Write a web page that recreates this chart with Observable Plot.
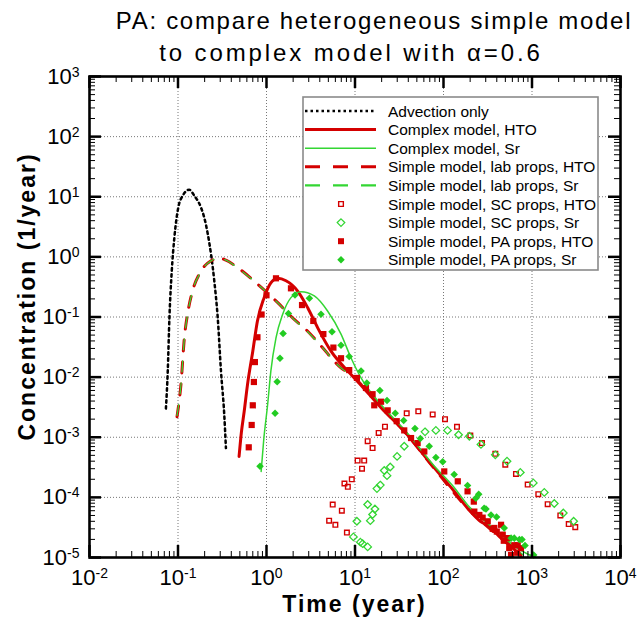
<!DOCTYPE html>
<html><head><meta charset="utf-8">
<script src="https://cdn.jsdelivr.net/npm/d3@7"></script>
<script src="https://cdn.jsdelivr.net/npm/@observablehq/plot@0.6"></script>
<style>
body{margin:0;background:#fff;}
#chart{width:639px;height:625px;}
</style>
</head><body><div id="chart"></div>
<script>
// ---------- data ----------
const titleLines = ["PA: compare heterogeneous simple model", "to complex model with α=0.6"];
const xLabel = "Time (year)";
const yLabel = "Concentration (1/year)";
const xTickExp = [-2, -1, 0, 1, 2, 3, 4];
const yTickExp = [-5, -4, -3, -2, -1, 0, 1, 2, 3];
const legendLabels = [
  "Advection only",
  "Complex model, HTO",
  "Complex model, Sr",
  "Simple model, lab props, HTO",
  "Simple model, lab props, Sr",
  "Simple model, SC props, HTO",
  "Simple model, SC props, Sr",
  "Simple model, PA props, HTO",
  "Simple model, PA props, Sr"
];

// Advection only
const advT = [0.073, 0.0766, 0.080, 0.085, 0.091, 0.1007, 0.113, 0.134, 0.153, 0.182, 0.198, 0.217, 0.257, 0.281, 0.306, 0.333, 0.348];
const advC = [3.0e-3, 0.0126, 0.098, 0.58, 2.1, 6.6, 10.4, 13.1, 10.4, 6.6, 4.5, 2.4, 0.40, 0.098, 0.0126, 2.4e-3, 6.6e-4];

// Complex model, HTO
const cxHtoT = [0.49, 0.52, 0.56, 0.61, 0.70, 0.79, 0.94, 1.12, 1.34, 1.66, 2.25, 2.92, 3.79, 5.36, 8.3, 10.7, 19.7, 36, 78.7, 130, 187, 260, 330, 447, 560, 750];
const cxHtoC = [4.8e-4, 1.2e-3, 2.7e-3, 7.5e-3, 0.027, 0.086, 0.21, 0.37, 0.44, 0.40, 0.27, 0.143, 0.066, 0.027, 0.0126, 8.5e-3, 3.1e-3, 1.26e-3, 3.1e-4, 1.3e-4, 6.6e-5, 4.0e-5, 3.3e-5, 2.1e-5, 1.6e-5, 1.05e-5];

// Complex model, Sr
const cxSrT = [0.87, 0.93, 1.03, 1.12, 1.28, 1.52, 1.89, 2.45, 3.47, 4.9, 6.95, 9.0, 11.7, 20, 36, 79, 130, 187, 280, 447, 650, 1000];
const cxSrC = [2.7e-4, 9.0e-4, 3.5e-3, 0.0126, 0.045, 0.11, 0.21, 0.264, 0.224, 0.126, 0.052, 0.021, 9.7e-3, 3.4e-3, 1.35e-3, 3.3e-4, 1.5e-4, 7.5e-5, 4.3e-5, 2.4e-5, 1.5e-5, 1.05e-5];

// Simple model, lab props, HTO
const labHtoT = [0.0975, 0.108, 0.118, 0.13, 0.146, 0.182, 0.236, 0.293, 0.348, 0.473, 0.797, 1.34, 2.06, 2.92, 4.13, 6.95, 9.0, 12, 20, 36, 79, 187, 447, 750];
const labHtoC = [2.2e-3, 7.6e-3, 0.045, 0.126, 0.27, 0.58, 0.86, 0.95, 0.88, 0.66, 0.35, 0.173, 0.091, 0.058, 0.033, 0.0143, 0.011, 7.3e-3, 3.1e-3, 1.25e-3, 3.0e-4, 6.6e-5, 2.1e-5, 1.1e-5];

// Simple model, lab props, Sr
const labSrT = [0.0975, 0.108, 0.118, 0.13, 0.146, 0.182, 0.236, 0.293, 0.348, 0.473, 0.797, 1.34, 2.06, 2.92, 4.13, 6.95, 9.0, 12, 20, 36, 79, 187, 447, 800];
const labSrC = [2.3e-3, 7.4e-3, 0.044, 0.124, 0.27, 0.57, 0.86, 0.94, 0.88, 0.65, 0.35, 0.172, 0.090, 0.057, 0.033, 0.0142, 0.011, 7.4e-3, 3.2e-3, 1.3e-3, 3.1e-4, 6.9e-5, 2.2e-5, 1.1e-5];

// Simple model, SC props, HTO (open squares)
const scHtoT = [5.1, 6.0, 8.1, 5.6, 7.1, 7.6, 8.3, 9.2, 10.7, 12.7, 12, 15.8, 13.9, 18.5, 21.8, 38.4, 51.9, 75.5, 104, 142, 201, 272, 385, 499, 659, 894, 1178, 1503, 2089, 2600, 3083];
const scHtoC = [4.1e-5, 3.5e-5, 2.6e-5, 7.6e-5, 6.0e-5, 1.7e-4, 1.5e-4, 2.0e-4, 4.1e-4, 4.1e-4, 3.0e-4, 6.6e-4, 8.6e-4, 1.18e-3, 1.5e-3, 2.5e-3, 2.7e-3, 2.4e-3, 2.0e-3, 1.49e-3, 1.07e-3, 8.0e-4, 5.3e-4, 3.5e-4, 2.45e-4, 1.63e-4, 1.13e-4, 7.7e-5, 5.0e-5, 3.6e-5, 3.2e-5];

// Simple model, SC props, Sr (open diamonds)
const scSrT = [9.6, 11.5, 12.2, 13.9, 10.5, 14.9, 15.8, 16.8, 13.9, 17.7, 19.3, 23, 21.4, 25, 29.9, 36, 61.8, 82, 111, 148, 196, 265, 385, 522, 738, 1034, 1377, 1786, 2258, 2954];
const scSrC = [2.2e-5, 1.8e-5, 1.7e-5, 1.5e-5, 4.0e-5, 4.1e-5, 5.2e-5, 6.4e-5, 7.6e-5, 1.4e-4, 1.6e-4, 2.3e-4, 2.8e-4, 3.2e-4, 4.8e-4, 7.1e-4, 1.23e-3, 1.3e-3, 1.3e-3, 1.1e-3, 1.04e-3, 7.6e-4, 5.1e-4, 4.0e-4, 2.6e-4, 1.74e-4, 1.21e-4, 7.9e-5, 5.5e-5, 4.0e-5];

// Simple model, PA props, HTO (filled squares)
const paHtoT = [0.63, 0.68, 0.70, 0.72, 0.74, 0.79, 0.88, 1.0, 1.28, 1.89, 2.52, 3.38, 4.39, 5.7, 6.95, 8.6, 10.5, 13.3, 15.8, 16.5, 19.7, 23.4, 29.6, 36, 43, 51, 60.7, 102, 145, 187, 220, 223, 254, 277, 316, 360, 375, 400, 447, 467, 480, 531, 553, 580, 631, 680, 689, 750];
const paHtoC = [6.8e-4, 1.6e-3, 3.4e-3, 8.3e-3, 0.0178, 0.046, 0.11, 0.23, 0.44, 0.30, 0.158, 0.086, 0.052, 0.031, 0.0206, 0.0131, 9.7e-3, 6.6e-3, 5.2e-3, 3.4e-3, 3.9e-3, 2.8e-3, 1.85e-3, 1.3e-3, 9.7e-4, 8.0e-4, 5.8e-4, 2.7e-4, 1.85e-4, 1.26e-4, 8.5e-5, 5.8e-5, 5.1e-5, 4.6e-5, 4.0e-5, 3.0e-5, 3.1e-5, 2.7e-5, 3.5e-5, 2.4e-5, 1.9e-5, 2.1e-5, 1.43e-5, 1.1e-5, 1.6e-5, 1.2e-5, 1.6e-5, 1.43e-5];

// Simple model, PA props, Sr (filled diamonds)
const paSrT = [0.845, 1.25, 1.32, 1.42, 1.54, 1.77, 2.1, 3.05, 4.13, 5.5, 6.95, 8.6, 11.7, 13.6, 19.1, 23, 28.5, 35.5, 47.6, 54.7, 69, 82, 98, 132, 187, 232, 250, 288, 302, 344, 398, 486, 580, 631, 720, 771, 834, 1045];
const paSrC = [3.3e-4, 2.5e-3, 8.4e-3, 0.0206, 0.053, 0.114, 0.233, 0.205, 0.111, 0.057, 0.034, 0.022, 0.0126, 8.0e-3, 6.0e-3, 4.1e-3, 2.5e-3, 1.9e-3, 1.4e-3, 9.5e-4, 7.1e-4, 4.6e-4, 3.9e-4, 2.4e-4, 1.57e-4, 9.7e-5, 1.13e-4, 6.6e-5, 6.4e-5, 5.1e-5, 4.7e-5, 3.1e-5, 2.1e-5, 2.1e-5, 2.0e-5, 2.0e-5, 1.58e-5, 1.1e-5];

// ---------- build ----------
const zip = (T, C) => T.map((t, i) => ({t, c: C[i]}));
const RED = "#d40000", GREEN = "#22cc22", GREENL = "#33d633";
const W = 639, H = 625, mL = 89, mR = 19, mT = 76, mB = 68;
const innerW = W - mL - mR, innerH = H - mT - mB;
const xMajor = xTickExp.map(e => Math.pow(10, e));
const yMajor = yTickExp.map(e => Math.pow(10, e));
const minorOf = (majors) => {
  const out = [];
  for (let i = 0; i < majors.length - 1; i++) for (let k = 2; k <= 9; k++) out.push(majors[i] * k);
  return out;
};
const xMinor = minorOf(xMajor), yMinor = minorOf(yMajor);
const MAJ = 12, MIN = 6;
const FONT = "'Liberation Sans', Arial, Helvetica, sans-serif";

const plot = Plot.plot({
  width: W, height: H,
  marginLeft: mL, marginRight: mR, marginTop: mT, marginBottom: mB,
  x: {type: "log", domain: [1e-2, 1e4]},
  y: {type: "log", domain: [1e-5, 1e3]},
  style: {fontFamily: FONT, background: "white", color: "black"},
  marks: [
    Plot.gridX(xMajor.slice(1, -1), {stroke: "#777", strokeOpacity: 1, strokeWidth: 1, strokeDasharray: "1,2"}),
    Plot.gridY(yMajor.slice(1, -1), {stroke: "#777", strokeOpacity: 1, strokeWidth: 1, strokeDasharray: "1,2"}),
    Plot.line(zip(advT, advC), {x: "t", y: "c", stroke: "black", strokeWidth: 2.5, strokeDasharray: "2.5,3.5", curve: "monotone-x"}),
    Plot.line(zip(labHtoT, labHtoC), {x: "t", y: "c", stroke: RED, strokeWidth: 3, strokeDasharray: "11,11", curve: "monotone-x"}),
    Plot.line(zip(labSrT, labSrC), {x: "t", y: "c", stroke: GREENL, strokeWidth: 1.3, strokeDasharray: "11,11", curve: "monotone-x"}),
    Plot.line(zip(cxHtoT, cxHtoC), {x: "t", y: "c", stroke: RED, strokeWidth: 3, curve: "monotone-x"}),
    Plot.line(zip(cxSrT, cxSrC), {x: "t", y: "c", stroke: GREENL, strokeWidth: 1.5, curve: "monotone-x"}),
    Plot.dot(zip(scHtoT, scHtoC), {x: "t", y: "c", symbol: "square", r: 2.6, stroke: RED, strokeWidth: 1.4, fill: "none"}),
    Plot.dot(zip(scSrT, scSrC), {x: "t", y: "c", symbol: "diamond2", r: 3.4, stroke: GREENL, strokeWidth: 1.3, fill: "none"}),
    Plot.dot(zip(paHtoT, paHtoC), {x: "t", y: "c", symbol: "square", r: 3.5, fill: RED, stroke: "none"}),
    Plot.dot(zip(paSrT, paSrC), {x: "t", y: "c", symbol: "diamond2", r: 3.4, fill: GREEN, stroke: "none"}),
    // inward ticks on all four sides
    Plot.ruleX(xMinor, {x: d => d, insetTop: innerH - MIN, stroke: "black", strokeWidth: 1}),
    Plot.ruleX(xMinor, {x: d => d, insetBottom: innerH - MIN, stroke: "black", strokeWidth: 1}),
    Plot.ruleX(xMajor, {x: d => d, insetTop: innerH - MAJ, stroke: "black", strokeWidth: 2.5}),
    Plot.ruleX(xMajor, {x: d => d, insetBottom: innerH - MAJ, stroke: "black", strokeWidth: 2.5}),
    Plot.ruleY(yMinor, {y: d => d, insetRight: innerW - MIN, stroke: "black", strokeWidth: 1}),
    Plot.ruleY(yMinor, {y: d => d, insetLeft: innerW - MIN, stroke: "black", strokeWidth: 1}),
    Plot.ruleY(yMajor, {y: d => d, insetRight: innerW - MAJ, stroke: "black", strokeWidth: 2.5}),
    Plot.ruleY(yMajor, {y: d => d, insetLeft: innerW - MAJ, stroke: "black", strokeWidth: 2.5}),
    Plot.frame({stroke: "black", strokeWidth: 2.6}),
    Plot.axisX(xMajor, {anchor: "bottom", tickSize: 0, tickPadding: 12, fontSize: 22, label: null,
      tickFormat: d => "10^" + Math.round(Math.log10(d))}),
    Plot.axisY(yMajor, {anchor: "left", tickSize: 0, tickPadding: 10, fontSize: 22, label: null,
      tickFormat: d => "10^" + Math.round(Math.log10(d))})
  ]
});

document.getElementById("chart").appendChild(plot);
const svg = d3.select(plot);

// superscript exponents in tick labels
svg.selectAll('g[aria-label="x-axis tick label"] text, g[aria-label="y-axis tick label"] text').each(function () {
  const s = this.textContent;
  if (!s.startsWith("10^")) return;
  const exp = s.slice(3);
  const el = d3.select(this);
  el.text(null);
  el.append("tspan").text("10");
  el.append("tspan").attr("dy", "-0.5em").attr("font-size", "14px").text(exp);
});

// title
const title = svg.append("g").attr("font-family", FONT).attr("font-size", 24).attr("text-anchor", "middle").attr("fill", "black");
title.append("text").attr("x", 374).attr("y", 29).attr("letter-spacing", "1.7px").text(titleLines[0]);
title.append("text").attr("x", 351).attr("y", 61).attr("letter-spacing", "2.9px").text(titleLines[1]);

// axis titles
svg.append("text").attr("x", mL + innerW / 2).attr("y", 612).attr("text-anchor", "middle")
  .attr("font-family", FONT).attr("font-weight", "bold").attr("font-size", 23).attr("letter-spacing", "2px").text(xLabel);
svg.append("text").attr("transform", `translate(35,${mT + innerH / 2 - 20}) rotate(-90)`).attr("text-anchor", "middle")
  .attr("font-family", FONT).attr("font-weight", "bold").attr("font-size", 23).attr("letter-spacing", "2px").text(yLabel);

// legend
const legendStyles = [
  {kind: "line", stroke: "black", w: 2.5, dash: "2.5,3"},
  {kind: "line", stroke: RED, w: 3},
  {kind: "line", stroke: GREENL, w: 1.5},
  {kind: "line", stroke: RED, w: 3, dash: "15,13"},
  {kind: "line", stroke: GREENL, w: 2.2, dash: "15,13"},
  {kind: "sym", symbol: d3.symbolSquare, size: 22, stroke: RED, fill: "none", sw: 1.4},
  {kind: "sym", symbol: d3.symbolDiamond2, size: 36, stroke: GREENL, fill: "none", sw: 1.3},
  {kind: "sym", symbol: d3.symbolSquare, size: 36, stroke: "none", fill: RED},
  {kind: "sym", symbol: d3.symbolDiamond2, size: 36, stroke: "none", fill: GREEN}
];
const lg = svg.append("g").attr("font-family", FONT).attr("font-size", 15.5).attr("text-anchor", "start");
lg.append("rect").attr("x", 303).attr("y", 97).attr("width", 295).attr("height", 173)
  .attr("fill", "white").attr("stroke", "#8a8a8a").attr("stroke-width", 1.6);
legendLabels.forEach((lab, i) => {
  const cy = 111 + 18.6 * i;
  const st = legendStyles[i];
  if (st.kind === "line") {
    lg.append("line").attr("x1", 305).attr("x2", 376).attr("y1", cy).attr("y2", cy)
      .attr("stroke", st.stroke).attr("stroke-width", st.w).attr("stroke-dasharray", st.dash || null);
  } else {
    lg.append("path").attr("d", d3.symbol(st.symbol, st.size)()).attr("transform", `translate(341,${cy})`)
      .attr("fill", st.fill).attr("stroke", st.stroke).attr("stroke-width", st.sw || null);
  }
  lg.append("text").attr("x", 388).attr("y", cy + 5.5).attr("text-anchor", "start").attr("fill", "black").text(lab);
});
</script>
</body></html>
